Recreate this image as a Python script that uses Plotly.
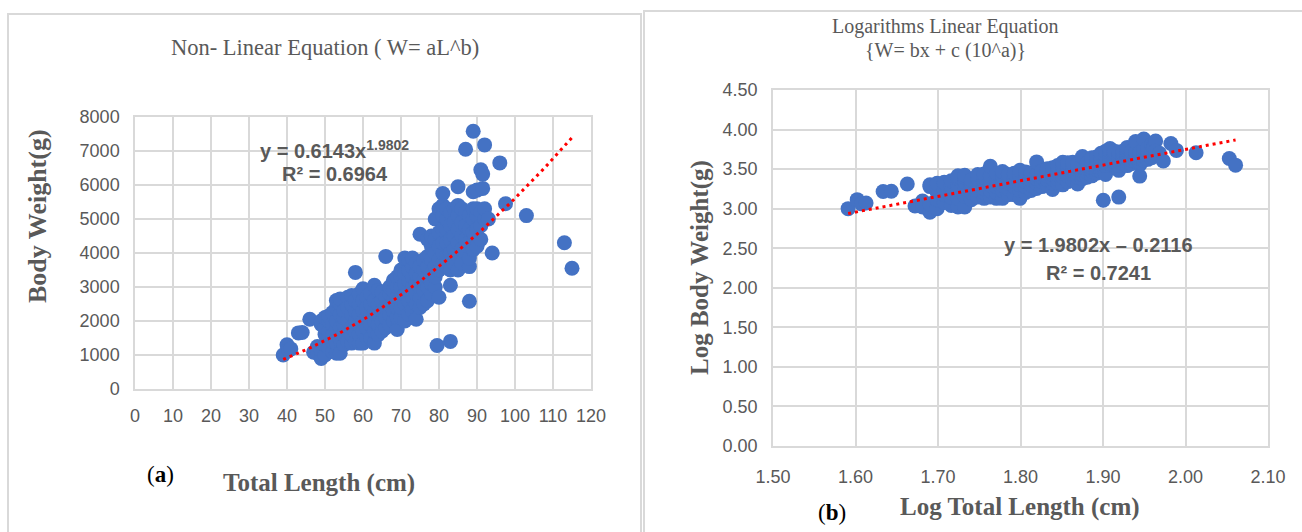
import numpy as np
import plotly.graph_objects as go

# Fish measurements: total length (cm) and body weight (g)
total_length = [
    39, 40, 40.5, 41, 43, 44, 46, 47, 48, 48,
    49, 49, 49, 49, 50, 50, 50, 50, 50,
    51, 51, 51, 51, 51, 52, 52, 52, 52, 52,
    53, 53, 53, 53, 53, 53, 54, 54, 54, 54, 54, 54,
    55, 55, 55, 55, 55, 56, 56, 56, 56, 56,
    57, 57, 57, 57, 57, 57, 58, 58, 58, 58, 58, 58,
    59, 59, 59, 59, 59, 59, 60, 60, 60, 60, 60, 60,
    61, 61, 61, 61, 61, 62, 62, 62, 62, 62,
    63, 63, 63, 63, 63, 63, 64, 64, 64, 64, 64,
    65, 65, 65, 65, 65, 66, 66, 66, 66, 66,
    67, 67, 67, 67, 67, 68, 68, 68, 68, 68,
    69, 69, 69, 69, 69, 69, 70, 70, 70, 70, 70, 70,
    71, 71, 71, 71, 71, 71, 72, 72, 72, 72, 72, 72,
    73, 73, 73, 73, 73, 73, 74, 74, 74, 74, 74, 74,
    75, 75, 75, 75, 75, 75, 76, 76, 76, 76, 76,
    77, 77, 77, 77, 77, 77, 78, 78, 78, 78, 78, 78,
    79, 79, 79, 79, 79, 79, 79.5,
    80, 80, 80, 80, 80, 80, 81, 81, 81, 81, 81, 81, 81,
    82, 82, 82, 82, 82, 82, 83, 83, 83, 83, 83, 83, 83,
    84, 84, 84, 84, 84, 85, 85, 85, 85, 85, 85, 85,
    86, 86, 86, 86, 86, 87, 87, 87, 87, 87,
    88, 88, 88, 88, 88, 88, 89, 89, 89, 89, 89, 89,
    90, 90, 90, 90, 90, 91, 91, 91, 91, 91.5, 91.5,
    92, 92, 92, 93, 94, 96, 97.5, 103, 113, 115,
]
body_weight = [
    1000, 1300, 1150, 1180, 1650, 1660, 2050, 1080, 1250, 1050,
    900, 1150, 1900, 2000, 1000, 1300, 1600, 1800, 2100,
    1200, 1500, 1700, 2000, 2150, 1100, 1400, 1600, 1900, 2250,
    1050, 1350, 1750, 2000, 2400, 2600, 1050, 1450, 1800, 2200, 2500, 2650,
    1300, 1600, 1900, 2100, 2300, 1400, 1700, 2000, 2400, 2700,
    1350, 1600, 1800, 2200, 2500, 2750, 1400, 1700, 2000, 2300, 2600, 3430,
    1350, 1600, 1900, 2200, 2500, 2800, 1350, 1700, 2000, 2300, 2600, 2950,
    1500, 1800, 2100, 2400, 2700, 1500, 1900, 2200, 2500, 2800,
    1350, 1700, 2000, 2300, 2600, 3050, 1600, 1900, 2200, 2500, 2900,
    1700, 2000, 2300, 2600, 2850, 1800, 2100, 2400, 2700, 3900,
    1900, 2200, 2500, 2800, 3000, 2000, 2300, 2600, 2900, 3200,
    1750, 2100, 2400, 2700, 3000, 3300, 2100, 2400, 2700, 3000, 3300, 3500,
    2000, 2500, 2800, 3100, 3400, 3850, 2200, 2600, 2900, 3200, 3500, 3800,
    2300, 2700, 3000, 3300, 3600, 3850, 2050, 2500, 2800, 3100, 3400, 3700,
    2400, 2700, 3000, 3300, 3600, 4550, 2500, 2900, 3200, 3500, 3800,
    2600, 3000, 3300, 3600, 3900, 4400, 2800, 3100, 3400, 3800, 4200, 4500,
    3000, 3300, 3600, 4000, 4400, 5000, 1280,
    2700, 3500, 3800, 4200, 4600, 5300, 3700, 4000, 4300, 4700, 5100, 5400, 5750,
    3600, 3900, 4300, 4700, 5000, 5300, 1400, 3050, 3500, 4000, 4400, 4800, 5200,
    3700, 4100, 4500, 4900, 5300, 3500, 3900, 4300, 4700, 5100, 5400, 5950,
    3700, 4100, 4500, 4900, 5300, 4000, 4400, 4800, 5200, 7050,
    2580, 3600, 3850, 4300, 4700, 5100, 4100, 4600, 5000, 5300, 5800, 7580,
    4200, 4700, 5100, 5300, 5850, 4400, 4800, 5200, 6450, 6320, 5900,
    7180, 5000, 5300, 5000, 4000, 6650, 5450, 5100, 4300, 3550,
]

# Fitted relationships
power_a, power_b, power_r2 = 0.6143, 1.9802, 0.6964
lin_slope, lin_intercept, lin_r2 = 1.9802, -0.2116, 0.7241
fit_length_range = [39, 115]

L = np.array(total_length, dtype=float)
W = np.array(body_weight, dtype=float)
logL = np.log10(L)
logW = np.log10(W)

BLUE = "#4472C4"
GRID = "#D9D9D9"
TXT = "#595959"
TICKFONT = dict(family="Liberation Sans, Arial, sans-serif", size=18, color=TXT)
SERIF = "Liberation Serif, Times New Roman, serif"
SANS = "Liberation Sans, Arial, sans-serif"

fig = go.Figure()

# Panel (a): raw values with power-law trend
fig.add_trace(go.Scatter(
    x=L, y=W, mode="markers", xaxis="x", yaxis="y",
    marker=dict(color=BLUE, size=15, line=dict(width=0)), showlegend=False))
xs = np.linspace(fit_length_range[0], fit_length_range[1], 120)
fig.add_trace(go.Scatter(
    x=xs, y=power_a * xs ** power_b, mode="lines", xaxis="x", yaxis="y",
    line=dict(color="#FF0000", width=3, dash="3px,4px"), showlegend=False))

# Panel (b): log-log values with linear trend
fig.add_trace(go.Scatter(
    x=logL, y=logW, mode="markers", xaxis="x2", yaxis="y2",
    marker=dict(color=BLUE, size=15, line=dict(width=0)), showlegend=False))
lx = np.log10(np.array(fit_length_range, dtype=float))
fig.add_trace(go.Scatter(
    x=lx, y=lin_slope * lx + lin_intercept, mode="lines", xaxis="x2", yaxis="y2",
    line=dict(color="#FF0000", width=3, dash="3px,4px"), showlegend=False))

W_FIG, H_FIG = 1302, 532


def px(x):
    return x / W_FIG


def py(y):
    return 1 - y / H_FIG


axis_common = dict(showgrid=True, gridcolor=GRID, gridwidth=1.5, zeroline=False,
                   showline=True, linecolor=GRID, linewidth=1.5, mirror=True,
                   ticks="", tickfont=TICKFONT, fixedrange=True, automargin=False)

fig.update_layout(
    width=W_FIG, height=H_FIG,
    margin=dict(l=0, r=0, t=0, b=0, autoexpand=False),
    paper_bgcolor="white", plot_bgcolor="white",
    xaxis=dict(domain=[px(135), px(591)], range=[0, 120], dtick=10,
               anchor="y", ticklabelstandoff=10, **axis_common),
    yaxis=dict(domain=[py(389), py(117)], range=[0, 8000], dtick=1000,
               anchor="x", ticklabelstandoff=10, **axis_common),
    xaxis2=dict(domain=[px(773), px(1268)], range=[1.5, 2.1], dtick=0.1,
                tickformat=".2f", anchor="y2", ticklabelstandoff=14, **axis_common),
    yaxis2=dict(domain=[py(446), py(90)], range=[0, 4.5], dtick=0.5,
                tickformat=".2f", anchor="x2", ticklabelstandoff=10, **axis_common),
)

# Panel frames
fig.add_shape(type="rect", xref="paper", yref="paper",
              x0=px(8), x1=px(641), y0=py(545), y1=py(14),
              line=dict(color=GRID, width=2), fillcolor="rgba(0,0,0,0)")
fig.add_shape(type="rect", xref="paper", yref="paper",
              x0=px(644), x1=px(1310), y0=py(545), y1=py(11),
              line=dict(color=GRID, width=2), fillcolor="rgba(0,0,0,0)")

annotations = [
    # titles
    dict(x=px(325), y=py(47), text="Non- Linear Equation ( W= aL^b)",
         font=dict(family=SERIF, size=22.5, color=TXT)),
    dict(x=px(945), y=py(27), text="Logarithms Linear Equation",
         font=dict(family=SERIF, size=20, color=TXT)),
    dict(x=px(945), y=py(50), text="{W= bx + c (10^a)}",
         font=dict(family=SERIF, size=20, color=TXT)),
    # axis titles
    dict(x=px(37), y=py(216), text="<b>Body Weight(g)</b>", textangle=-90,
         font=dict(family=SERIF, size=26, color=TXT)),
    dict(x=px(319), y=py(483), text="<b>Total Length (cm)</b>",
         font=dict(family=SERIF, size=25, color=TXT)),
    dict(x=px(160), y=py(474), text="(<b>a</b>)",
         font=dict(family=SERIF, size=23, color="#000000")),
    dict(x=px(700), y=py(268), text="<b>Log Body Weight(g)</b>", textangle=-90,
         font=dict(family=SERIF, size=25, color=TXT)),
    dict(x=px(1020), y=py(507), text="<b>Log Total Length (cm)</b>",
         font=dict(family=SERIF, size=25, color=TXT)),
    dict(x=px(832), y=py(512), text="(<b>b</b>)",
         font=dict(family=SERIF, size=23, color="#000000")),
    # fit equations
    dict(x=px(335), y=py(149),
         text=f"<b>y = {power_a}x<sup>{power_b}</sup></b>",
         font=dict(family=SANS, size=20, color=TXT)),
    dict(x=px(335), y=py(174), text=f"<b>R² = {power_r2}</b>",
         font=dict(family=SANS, size=20, color=TXT)),
    dict(x=px(1098), y=py(245),
         text=f"<b>y = {lin_slope}x – {abs(lin_intercept)}</b>",
         font=dict(family=SANS, size=20, color=TXT)),
    dict(x=px(1098), y=py(273), text=f"<b>R² = {lin_r2}</b>",
         font=dict(family=SANS, size=20, color=TXT)),
]
for a in annotations:
    a.update(xref="paper", yref="paper", showarrow=False,
             xanchor="center", yanchor="middle")
fig.update_layout(annotations=annotations)

fig.write_html("out.html")
